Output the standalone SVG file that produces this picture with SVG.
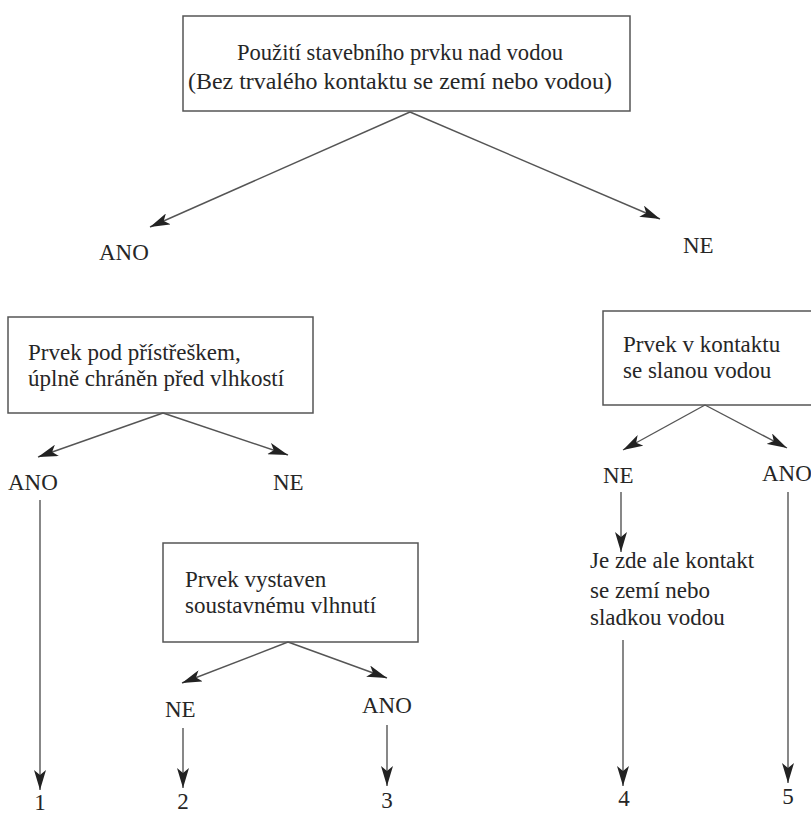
<svg xmlns="http://www.w3.org/2000/svg" width="811" height="814" viewBox="0 0 811 814">
<defs>
<marker id="ah" markerUnits="userSpaceOnUse" markerWidth="22" markerHeight="12" refX="20" refY="6" orient="auto">
<path d="M0,0 L20,6 L0,12 L5,6 Z" fill="#222"/>
</marker>
</defs>
<style>
.box{fill:#fff;stroke:#555;stroke-width:1.5}
text{font-family:'Liberation Serif','DejaVu Serif','Times New Roman',serif;font-size:23px;fill:#262626}
.c{stroke:#555;stroke-width:1.4;fill:none;marker-end:url(#ah)}
</style>
<rect width="811" height="814" fill="#fff"/>
<g font-family="Liberation Serif, DejaVu Serif, serif" font-size="23" fill="#262626">
<g id="n_top">
<rect class="box" x="183" y="16" width="447" height="95"/>
<text x="237" y="60" textLength="326" lengthAdjust="spacingAndGlyphs">Použití stavebního prvku nad vodou</text>
<text x="188" y="89" textLength="424" lengthAdjust="spacingAndGlyphs">(Bez trvalého kontaktu se zemí nebo vodou)</text>
</g>
<g id="n_ano1"><text x="99" y="260">ANO</text></g>
<g id="n_ne1"><text x="683" y="253">NE</text></g>
<g id="n_shelter">
<rect class="box" x="8" y="317" width="305" height="96"/>
<text x="28" y="360">Prvek pod přístřeškem,</text>
<text x="28" y="386">úplně chráněn před vlhkostí</text>
</g>
<g id="n_ano2"><text x="8" y="490">ANO</text></g>
<g id="n_ne2"><text x="273" y="490">NE</text></g>
<g id="n_wet">
<rect class="box" x="163" y="543" width="255" height="99"/>
<text x="185" y="587">Prvek vystaven</text>
<text x="185" y="613">soustavnému vlhnutí</text>
</g>
<g id="n_ne3"><text x="165" y="717">NE</text></g>
<g id="n_ano3"><text x="362" y="713">ANO</text></g>
<g id="n_salt">
<rect class="box" x="603" y="311" width="220" height="94"/>
<text x="623" y="352">Prvek v kontaktu</text>
<text x="623" y="378">se slanou vodou</text>
</g>
<g id="n_ne4"><text x="603" y="483">NE</text></g>
<g id="n_ano4"><text x="762" y="481">ANO</text></g>
<g id="n_soil">
<text x="590" y="568">Je zde ale kontakt</text>
<text x="590" y="598">se zemí nebo</text>
<text x="590" y="625">sladkou vodou</text>
</g>
<g id="n_1"><text x="40" y="810" text-anchor="middle">1</text></g>
<g id="n_2"><text x="183" y="809" text-anchor="middle">2</text></g>
<g id="n_3"><text x="387" y="808" text-anchor="middle">3</text></g>
<g id="n_4"><text x="624" y="806" text-anchor="middle">4</text></g>
<g id="n_5"><text x="788" y="804" text-anchor="middle">5</text></g>
</g>
<g id="connectors">
<line class="c" x1="410" y1="112" x2="150" y2="227"/>
<line class="c" x1="410" y1="112" x2="660" y2="219"/>
<line class="c" x1="163" y1="413" x2="38" y2="457"/>
<line class="c" x1="163" y1="413" x2="288" y2="455"/>
<line class="c" x1="288" y1="642" x2="182" y2="683"/>
<line class="c" x1="288" y1="642" x2="387" y2="678"/>
<line class="c" x1="705" y1="405" x2="623" y2="450"/>
<line class="c" x1="705" y1="405" x2="787" y2="448"/>
<line class="c" x1="40" y1="500" x2="40" y2="790"/>
<line class="c" x1="183" y1="728" x2="183" y2="788"/>
<line class="c" x1="387" y1="725" x2="387" y2="786"/>
<line class="c" x1="621" y1="492" x2="621" y2="552"/>
<line class="c" x1="623" y1="640" x2="623" y2="786"/>
<line class="c" x1="788" y1="492" x2="788" y2="783"/>
</g>
</svg>
